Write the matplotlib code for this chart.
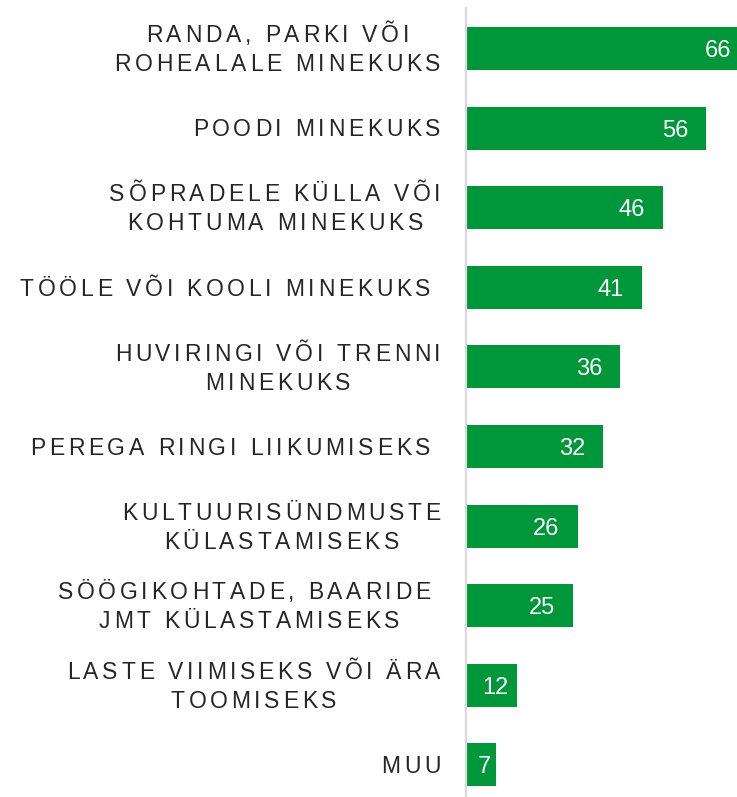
import numpy as np
import matplotlib
matplotlib.use("Agg")
import matplotlib.pyplot as plt
from matplotlib import transforms
from matplotlib.font_manager import FontProperties, findfont, get_font

# ---- data ----
labels = [
    ["RANDA, PARKI VÕI", "ROHEALALE MINEKUKS"],
    ["POODI MINEKUKS"],
    ["SÕPRADELE KÜLLA VÕI", "KOHTUMA MINEKUKS"],
    ["TÖÖLE VÕI KOOLI MINEKUKS "],
    ["HUVIRINGI VÕI TRENNI", "MINEKUKS"],
    ["PEREGA RINGI LIIKUMISEKS "],
    ["KULTUURISÜNDMUSTE", "KÜLASTAMISEKS"],
    ["SÖÖGIKOHTADE, BAARIDE ", "JMT KÜLASTAMISEKS"],
    ["LASTE VIIMISEKS VÕI ÄRA", "TOOMISEKS"],
    ["MUU"],
]
values = [66, 56, 46, 41, 36, 32, 26, 25, 12, 7]

# ---- style ----
W, H, DPI = 737, 797, 100
GREEN = "#00963A"
TEXT = "#262626"
FS = 16.5            # pt
TRACK = 3.7          # extra letter spacing, px
LINE_GAP = 29        # px between lines
LABEL_RIGHT = 440.5  # px
AX_LEFT = 466        # px
AX_TOP = 8           # px
PX_PER_UNIT = 4.29
ROW_PX = 79.6
FIRST_CENTER = 48.5

fig = plt.figure(figsize=(W / DPI, H / DPI), dpi=DPI)
ax = fig.add_axes([AX_LEFT / W, 0, 1 - AX_LEFT / W, (H - AX_TOP) / H])

n = len(values)
ypos = np.arange(n)
ax.barh(ypos, values, height=0.54, color=GREEN, zorder=2)
ax.set_xlim(0, (W - AX_LEFT) / PX_PER_UNIT)
top = -(FIRST_CENTER - AX_TOP) / ROW_PX
ax.set_ylim(top + (H - AX_TOP) / ROW_PX, top)

for s in ["top", "right", "bottom"]:
    ax.spines[s].set_visible(False)
ax.spines["left"].set_color("#d9d9d9")
ax.spines["left"].set_linewidth(1.6)
ax.set_xticks([])
ax.set_yticks([])

fp = FontProperties(family="Liberation Sans", size=FS)
FSV = FS + 0.5
fpv = FontProperties(family="Liberation Sans", size=FSV)
font = get_font(findfont(fp))
font.set_size(FS, DPI)


def adv(ch):
    g = font.load_char(ord(ch))
    return g.linearHoriAdvance / 65536


def line_width(s):
    return sum(adv(c) for c in s) + TRACK * (len(s) - 1)


cap_px = 0.716 * FS * DPI / 72
base_trans = transforms.blended_transform_factory(fig.dpi_scale_trans, ax.transData)

for i, lines in enumerate(labels):
    widths = [line_width(l) for l in lines]
    maxw = max(widths)
    center = LABEL_RIGHT - maxw / 2
    nl = len(lines)
    for j, (l, w) in enumerate(zip(lines, widths)):
        dy = ((nl - 1) / 2 - j) * LINE_GAP - cap_px / 2
        x = center - w / 2
        tr = base_trans + transforms.ScaledTranslation(0, dy / DPI, fig.dpi_scale_trans)
        for ch in l:
            if ch != " ":
                fig.text(x / DPI, ypos[i], ch, transform=tr, fontproperties=fp,
                         color=TEXT, ha="left", va="baseline")
            x += adv(ch) + TRACK

# value labels (digits vertically centred on the bar)
digit_px = 0.716 * FSV * DPI / 72
vtr = ax.transData + transforms.ScaledTranslation(0, -digit_px / 2 / DPI, fig.dpi_scale_trans)
for i, v in enumerate(values):
    pad = min(4.2, 0.18 * v)
    ax.text(v - pad, ypos[i], f"{v}", color="white", fontproperties=fpv,
            ha="right", va="baseline", transform=vtr, zorder=3)

fig.savefig("out.png", dpi=DPI)
